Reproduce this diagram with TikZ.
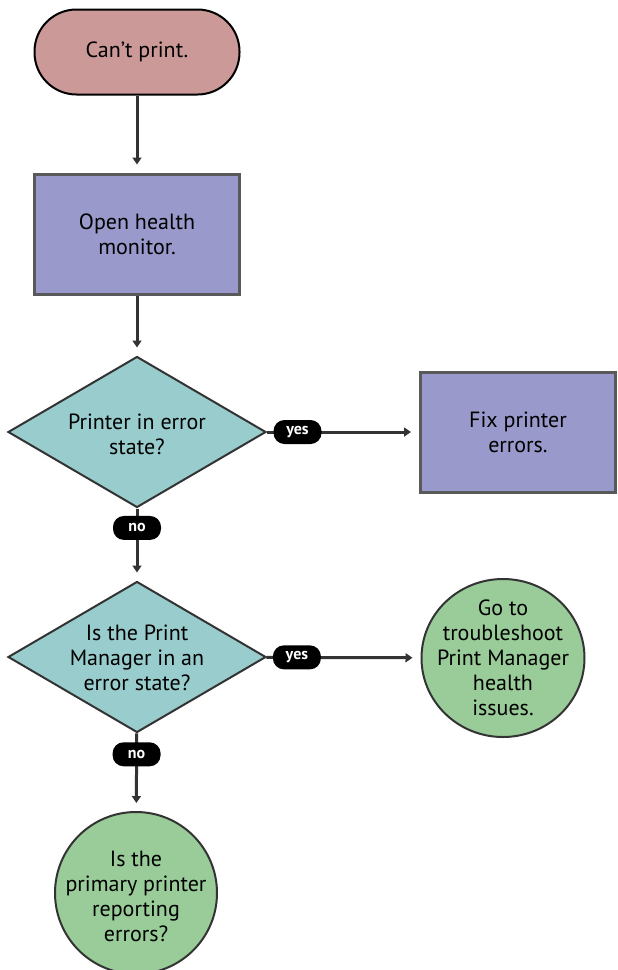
\documentclass[tikz,border=0pt]{standalone}
\usepackage{fontspec}
\setmainfont{PT Sans}
\usetikzlibrary{shapes.geometric,arrows.meta}
\definecolor{startfill}{HTML}{CC9999}
\definecolor{stepfill}{HTML}{9999CC}
\definecolor{askfill}{HTML}{99CCCC}
\definecolor{endfill}{HTML}{99CC99}
\definecolor{lineclr}{HTML}{333333}
\newcommand{\chartFont}[0]{\fontsize{22}{25}\selectfont}

\begin{document}
\begin{tikzpicture}[x=1pt, y=-1pt, >={Triangle[length=7pt,width=9pt]}]
  \tikzset{every node/.style={align=center, font=\chartFont},
    startbox/.style={draw=black, line width=2pt, fill=startfill, rounded corners=42pt,
      minimum width=205pt, minimum height=85pt},
    actbox/.style={draw=black!65, line width=3pt, fill=stepfill,
      minimum width=205pt, minimum height=120pt},
    askbox/.style={diamond, draw=lineclr, line width=2pt, fill=askfill,
      minimum width=258pt, minimum height=151pt, inner sep=0pt},
    endbox/.style={ellipse, draw=lineclr, line width=2pt, fill=endfill, inner sep=0pt},
    answer/.style={fill=black, text=white, rounded corners=11pt, inner sep=2pt,
      minimum width=48pt, minimum height=24pt, font=\bfseries\fontsize{16}{16}\selectfont},
    flow/.style={->, draw=lineclr, line width=3pt, shorten >=8pt}}
  \useasboundingbox (0,0) rectangle (618,970);
  \node[startbox] (start) at (137,52) {Can't print.};
  \node[actbox] (monitor) at (137,234) {Open health\\monitor.};
  \node[askbox] (printerQ) at (137,432) {};
  \node (printerQ-text) at (137,434) {Printer in error\\state?};
  \node[actbox, minimum width=195pt] (fix) at (518,432) {Fix printer\\errors.};
  \node[askbox] (managerQ) at (137,657) {};
  \node (managerQ-text) at (137,658) {Is the Print\\Manager in an\\error state?};
  \node[endbox, minimum width=163pt, minimum height=158pt] (troubleshoot) at (503,658) {};
  \node (troubleshoot-text) at (503,658) {Go to\\troubleshoot\\Print Manager\\health\\issues.};
  \node[endbox, minimum size=162pt] (primary) at (136,893) {};
  \node (primary-text) at (136,896) {Is the\\primary printer\\reporting\\errors?};
  \draw[flow] (start) -- (monitor);
  \draw[flow] (monitor) -- (printerQ);
  \draw[flow] (printerQ) -- node[answer, at start, anchor=west, xshift=5pt] (yes-1) {yes} (fix);
  \draw[flow] (printerQ) -- node[answer, pos=0.27] (no-1) {no} (managerQ);
  \draw[flow] (managerQ) -- node[answer, at start, anchor=west, xshift=5pt] (yes-2) {yes} (troubleshoot);
  \draw[flow] (managerQ) -- node[answer, pos=0.27] (no-2) {no} (primary);
\end{tikzpicture}
\end{document}
